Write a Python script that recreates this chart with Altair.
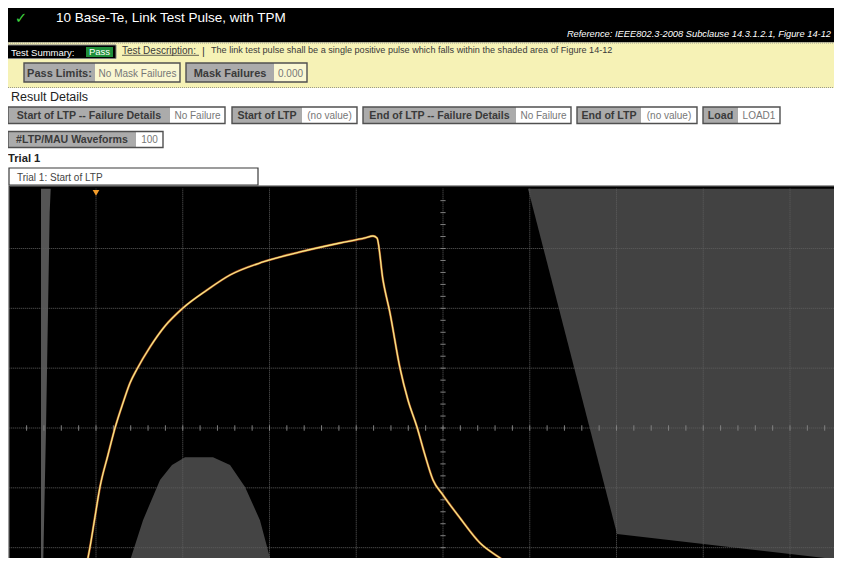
import altair as alt
import pandas as pd

# ---------------- texts ----------------
title_text = "10 Base-Te, Link Test Pulse, with TPM"
reference_text = "Reference: IEEE802.3-2008 Subclause 14.3.1.2.1, Figure 14-12"
summary_label = "Test Summary:"
summary_value = "Pass"
description_label = "Test Description:"
description_text = ("The link test pulse shall be a single positive pulse which falls "
                    "within the shaded area of Figure 14-12")
limit_labels = ["Pass Limits:", "Mask Failures"]
limit_values = ["No Mask Failures", "0.000"]
detail_labels = ["Start of LTP -- Failure Details", "Start of LTP",
                 "End of LTP -- Failure Details", "End of LTP", "Load"]
detail_values = ["No Failure", "(no value)", "No Failure", "(no value)", "LOAD1"]
count_labels = ["#LTP/MAU Waveforms"]
count_values = ["100"]
result_heading = "Result Details"
trial_heading = "Trial 1"
trial_selection = "Trial 1: Start of LTP"

# ---------------- scope data (divisions: time 0..10, volts -4..4) ----------------
scope_time = [0, 10]
scope_volt = [-4, 4.04]
grid_time_div = [1, 2, 3, 4, 5, 6, 7, 8, 9]
grid_volt_div = [-3, -2, -1, 0, 1, 2, 3]
minor_time_div = [round(i * 0.2, 1) for i in range(1, 50)]
minor_volt_div = [round(-4 + i * 0.2, 1) for i in range(1, 40)]
trigger_time_div = [1.0]
trigger_volt_div = [3.93]

wave_t = [0.804, 0.873, 0.931, 0.988, 1.046, 1.138, 1.219, 1.311, 1.392, 1.473,
          1.623, 1.796, 2.003, 2.280, 2.545, 2.925, 3.352, 3.813, 4.101, 4.193,
          4.239, 4.308, 4.389, 4.504, 4.596, 4.700, 4.792, 4.885, 5.000, 5.196,
          5.427, 5.658, 5.888, 6.176]
wave_v = [-2.875, -2.424, -1.989, -1.488, -0.986, -0.451, 0.000, 0.418, 0.752, 0.986,
          1.354, 1.705, 2.006, 2.306, 2.557, 2.775, 2.942, 3.092, 3.176, 3.209,
          3.176, 2.474, 1.922, 1.003, 0.468, 0.017, -0.451, -0.869, -1.120, -1.504,
          -1.922, -2.173, -2.407, -2.674]

hump_t = [1.250, 1.346, 1.542, 1.738, 1.876, 2.026, 2.349, 2.545, 2.718, 2.890, 3.052, 3.144]
hump_v = [-2.875, -2.424, -1.540, -0.869, -0.620, -0.490, -0.490, -0.620, -0.986, -1.540, -2.424, -2.875]

right_t = [5.980, 7.006, 10.0]
right_lo = [4.0, -1.772, -2.273]

strip_v = [4.0, 3.6, 0.0, -2.424, -4.0]
strip_t1 = [0.366, 0.366, 0.366, 0.366, 0.366]
strip_t2 = [0.478, 0.466, 0.424, 0.389, 0.378]

# ---------------- layout ----------------
W, H = 826, 550
FONT = "Liberation Sans"


def HX(x):
    return x - 4


def HY(y):
    return y - 8


X_PER_DIV, X_ZERO = 86.75, 9.25
Y_PER_DIV, Y_ZERO = 59.83, 428.0
x_dom = [(8 - X_ZERO) / X_PER_DIV, (8 + W - X_ZERO) / X_PER_DIV]
y_dom = [(Y_ZERO - (8 + H)) / Y_PER_DIV, (Y_ZERO - 8) / Y_PER_DIV]
XS = alt.Scale(domain=x_dom, nice=False, zero=False)
YS = alt.Scale(domain=y_dom, nice=False, zero=False)

ONE = pd.DataFrame({"k": [0]})


def box(x0, x1, y0, y1, fill, stroke=None, sw=1.0):
    kw = {"fill": fill}
    if stroke is not None:
        kw["stroke"] = stroke
        kw["strokeWidth"] = sw
    else:
        kw["strokeWidth"] = 0
    return alt.Chart(ONE).mark_rect(**kw).encode(
        x=alt.value(HX(x0)), x2=alt.value(HX(x1)),
        y=alt.value(HY(y0)), y2=alt.value(HY(y1)))


def outline(x0, x1, y0, y1, stroke, sw):
    return alt.Chart(ONE).mark_rect(fillOpacity=0, stroke=stroke, strokeWidth=sw).encode(
        x=alt.value(HX(x0)), x2=alt.value(HX(x1)),
        y=alt.value(HY(y0)), y2=alt.value(HY(y1)))


def txt(s, x, y, size, color, weight="normal", style="normal", font=FONT, align="left"):
    return alt.Chart(ONE).mark_text(
        text=s, align=align, baseline="alphabetic", fontSize=size, color=color,
        fontWeight=weight, fontStyle=style, font=font).encode(
        x=alt.value(HX(x)), y=alt.value(HY(y)))


def hline(x0, x1, y, color, sw=1.0, dash=None):
    kw = {"color": color, "strokeWidth": sw}
    if dash is not None:
        kw["strokeDash"] = dash
    return alt.Chart(ONE).mark_rule(**kw).encode(
        x=alt.value(HX(x0)), x2=alt.value(HX(x1)), y=alt.value(HY(y)))


def field(label, value, x0, xs, x1, y0, y1, base, lsize, vsize, vbg):
    return [
        box(x0, xs, y0, y1, "#ababab"),
        box(xs, x1, y0, y1, vbg),
        outline(x0, x1, y0, y1, "#505050", 1.4),
        txt(label, (x0 + xs) / 2, base, lsize, "#3a3a3a", weight="bold", align="center"),
        txt(value, (xs + x1) / 2, base, vsize, "#777777", align="center"),
    ]


layers = []
# header bar
layers.append(box(0, 850, 0, 42.5, "#000000"))
layers.append(box(0, 850, 42.5, 88, "#f6f2b6"))
layers.append(hline(0, 850, 43, "#9a9a8a", 1, [1, 1]))
layers.append(hline(0, 850, 87.5, "#9a9a8a", 1, [1, 1]))
layers.append(txt("\u2713", 17, 23, 15, "#3ecf3e", font="DejaVu Sans", align="center"))
layers.append(txt(title_text, 52, 21.7, 13.5, "#ffffff"))
layers.append(txt(reference_text, 827, 36.7, 9.3, "#ffffff", style="italic", align="right"))

# row 1
layers.append(box(3, 112, 45, 58.5, "#000000", stroke="#808080", sw=1))
layers.append(txt(summary_label, 7, 55.6, 9.5, "#ffffff"))
layers.append(box(82, 109, 47, 57, "#1f8f3a"))
layers.append(txt(summary_value, 95.5, 55.3, 9.5, "#ffffff", align="center"))
layers.append(txt(description_label, 118, 53.8, 10, "#3a3a3a"))
layers.append(hline(118, 195, 55.3, "#3a3a3a", 0.8))
layers.append(txt("|", 198, 54.5, 11, "#3a3a3a"))
layers.append(txt(description_text, 207, 53.3, 9.1, "#3a3a3a"))

# row 2 (pass limits)
row2 = [(20, 91, 176), (182, 270, 303)]
for (x0, xs, x1), lab, val in zip(row2, limit_labels, limit_values):
    layers += field(lab, val, x0, xs, x1, 63, 82, 77, 11, 10, "#faf7d2")

# result details
layers.append(txt(result_heading, 7, 101, 12.5, "#222222"))
row3 = [(4, 166, 221), (228, 298, 353), (359, 512, 567), (573, 637, 693), (699, 734, 776)]
for (x0, xs, x1), lab, val in zip(row3, detail_labels, detail_values):
    layers += field(lab, val, x0, xs, x1, 107, 123.5, 118.5, 10.6, 10, "#ffffff")
row4 = [(4, 132, 159)]
for (x0, xs, x1), lab, val in zip(row4, count_labels, count_values):
    layers += field(lab, val, x0, xs, x1, 131.5, 147.5, 142.5, 10.6, 10, "#ffffff")

layers.append(txt(trial_heading, 4, 161.7, 11.2, "#222222", weight="bold"))
layers.append(box(5, 254, 168, 185, "#ffffff", stroke="#3a3a3a", sw=1.2))
layers.append(txt(trial_selection, 13, 181, 10, "#444444"))

# ---------------- scope ----------------
bg_df = pd.DataFrame({"t0": [scope_time[0]], "t1": [scope_time[1]],
                      "v0": [scope_volt[0]], "v1": [scope_volt[1]]})
layers.append(alt.Chart(bg_df).mark_rect(color="#000000", stroke="#3c3c3c", strokeWidth=1.5, clip=True).encode(
    x=alt.X("t0:Q", scale=XS, axis=None), x2="t1:Q",
    y=alt.Y("v0:Q", scale=YS, axis=None), y2="v1:Q"))

hump_df = pd.DataFrame({"t": hump_t, "v": hump_v})
layers.append(alt.Chart(hump_df).mark_area(color="#444444", clip=True).encode(
    x=alt.X("t:Q", scale=XS, axis=None),
    y=alt.Y("v:Q", scale=YS, axis=None),
    y2=alt.datum(-4)))

right_df = pd.DataFrame({"t": right_t, "lo": right_lo})
layers.append(alt.Chart(right_df).mark_area(color="#424242", clip=True).encode(
    x=alt.X("t:Q", scale=XS, axis=None),
    y=alt.Y("lo:Q", scale=YS, axis=None),
    y2=alt.datum(4)))

strip_df = pd.DataFrame({"v": strip_v, "t1": strip_t1, "t2": strip_t2})
layers.append(alt.Chart(strip_df).mark_area(color="#555555", orient="horizontal", clip=True).encode(
    y=alt.Y("v:Q", scale=YS, axis=None),
    x=alt.X("t1:Q", scale=XS, axis=None),
    x2="t2:Q"))

gt_df = pd.DataFrame({"t": grid_time_div})
layers.append(alt.Chart(gt_df).mark_rule(color="#5e5e5e", strokeWidth=1, strokeDash=[1, 1], clip=True).encode(
    x=alt.X("t:Q", scale=XS, axis=None),
    y=alt.Y(datum=-4, scale=YS, axis=None), y2=alt.datum(4)))

gv_df = pd.DataFrame({"v": grid_volt_div})
layers.append(alt.Chart(gv_df).mark_rule(color="#5e5e5e", strokeWidth=1, strokeDash=[1, 1], clip=True).encode(
    y=alt.Y("v:Q", scale=YS, axis=None),
    x=alt.X(datum=0, scale=XS, axis=None), x2=alt.datum(10)))

mt_df = pd.DataFrame({"t": minor_time_div})
layers.append(alt.Chart(mt_df).mark_rule(color="#808080", strokeWidth=1, clip=True).encode(
    x=alt.X("t:Q", scale=XS, axis=None),
    y=alt.Y(datum=-0.045, scale=YS, axis=None), y2=alt.datum(0.045)))

mv_df = pd.DataFrame({"v": minor_volt_div})
layers.append(alt.Chart(mv_df).mark_rule(color="#808080", strokeWidth=1, clip=True).encode(
    y=alt.Y("v:Q", scale=YS, axis=None),
    x=alt.X(datum=4.97, scale=XS, axis=None), x2=alt.datum(5.03)))

wave_df = pd.DataFrame({"t": wave_t, "v": wave_v})
layers.append(alt.Chart(wave_df).mark_line(color="#d8602a", strokeWidth=2.4, opacity=0.75,
                                            interpolate="monotone", clip=True).encode(
    x=alt.X("t:Q", scale=XS, axis=None), y=alt.Y("v:Q", scale=YS, axis=None)))
layers.append(alt.Chart(wave_df).mark_line(color="#f0e070", strokeWidth=1.3,
                                            interpolate="monotone", clip=True).encode(
    x=alt.X("t:Q", scale=XS, axis=None), y=alt.Y("v:Q", scale=YS, axis=None)))
layers.append(alt.Chart(wave_df).mark_line(color="#fffbe0", strokeWidth=0.5, opacity=0.5,
                                            interpolate="monotone", clip=True).encode(
    x=alt.X("t:Q", scale=XS, axis=None), y=alt.Y("v:Q", scale=YS, axis=None)))

trig_df = pd.DataFrame({"t": trigger_time_div, "v": trigger_volt_div})
layers.append(alt.Chart(trig_df).mark_point(shape="triangle-down", filled=True, color="#f39c2a",
                                             size=45, opacity=1, clip=True).encode(
    x=alt.X("t:Q", scale=XS, axis=None), y=alt.Y("v:Q", scale=YS, axis=None)))

chart = alt.layer(*layers).properties(
    width=W, height=H, padding=0, autosize="none", background="#ffffff"
).configure_view(strokeWidth=0)

chart.save("out.html", embed_options={"renderer": "svg", "actions": False})
